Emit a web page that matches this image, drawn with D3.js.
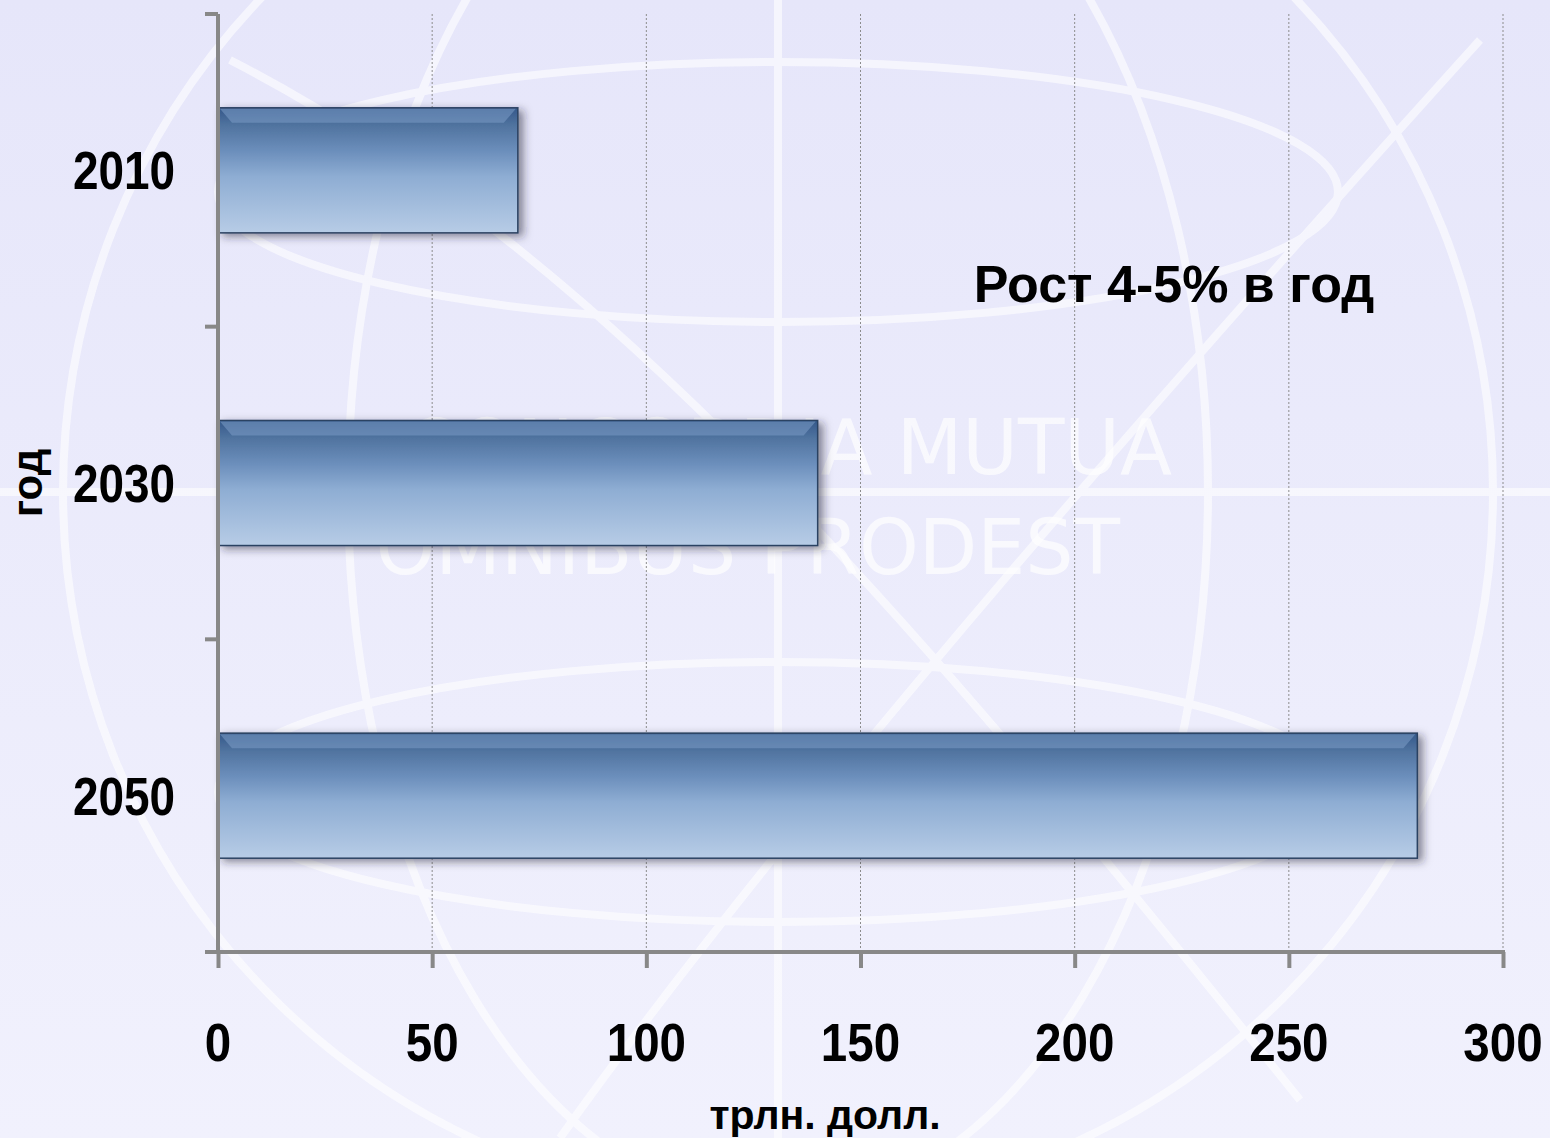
<!DOCTYPE html>
<html>
<head>
<meta charset="utf-8">
<script src="https://cdn.jsdelivr.net/npm/d3@7"></script>
<style>
  html,body{margin:0;padding:0;background:#ececfb}
  svg{display:block}
</style>
</head>
<body>
<svg id="chart" width="1550" height="1138"></svg>
<script>
const years=['2010','2030','2050']
const values=[70,140,280]
const xTicks=[0,50,100,150,200,250,300]
const note='Рост 4-5% в год'
const xTitle='трлн. долл.'
const yTitle='год'

const W=1550,H=1138
const margin={left:218,right:47,top:14,bottom:186}
const svg=d3.select('#chart')
const defs=svg.append('defs')

// background
const bg=defs.append('linearGradient').attr('id','bg').attr('x1',0).attr('y1',0).attr('x2',0).attr('y2',1)
bg.append('stop').attr('offset','0%').attr('stop-color','#e6e6fa')
bg.append('stop').attr('offset','100%').attr('stop-color','#f1f1fd')
svg.append('rect').attr('width',W).attr('height',H).attr('fill','url(#bg)')

// globe watermark
const wm=svg.append('g').attr('fill','none').attr('stroke','#ffffff').attr('stroke-width',8).attr('opacity',0.6)
const cx=778,cy=492,r=715
wm.append('circle').attr('cx',cx).attr('cy',cy).attr('r',r)
wm.append('line').attr('x1',cx).attr('x2',cx).attr('y1',0).attr('y2',H)
wm.append('line').attr('x1',0).attr('x2',W).attr('y1',cy).attr('y2',cy)
wm.append('ellipse').attr('cx',cx).attr('cy',cy).attr('rx',430).attr('ry',r)
wm.append('ellipse').attr('cx',cx).attr('cy',cy-300).attr('rx',560).attr('ry',130)
wm.append('ellipse').attr('cx',cx).attr('cy',cy+300).attr('rx',560).attr('ry',130)
wm.append('path').attr('d','M560,1138 C800,800 1200,350 1480,40')
wm.append('path').attr('d','M230,60 C600,250 900,600 1300,1100')
const wt=svg.append('g').attr('fill','#ffffff').attr('opacity',0.7)
  .attr('font-family','DejaVu Sans, sans-serif').attr('font-size',76).attr('text-anchor','end')
wt.append('text').attr('x',1172).attr('y',474).text('CONCORDIA MUTUA')
wt.append('text').attr('x',1120).attr('y',574).text('OMNIBUS PRODEST')

// scales
const x=d3.scaleLinear().domain([0,300]).range([margin.left,W-margin.right])
const y=d3.scaleBand().domain(years).range([margin.top,H-margin.bottom]).paddingInner(0.6).paddingOuter(0.3)
const yEdges=d3.scaleBand().domain(years).range([margin.top,H-margin.bottom])

// gridlines
svg.append('g').selectAll('line').data(xTicks.slice(1)).join('line')
  .attr('x1',d=>x(d)).attr('x2',d=>x(d))
  .attr('y1',margin.top).attr('y2',H-margin.bottom)
  .attr('stroke','#8c8c8c').attr('stroke-width',1).attr('stroke-dasharray','2,2')

// bar gradient + shadow
const g1=defs.append('linearGradient').attr('id','barFill').attr('x1',0).attr('y1',0).attr('x2',0).attr('y2',1)
;[['0%','#34588a'],['14%','#50739f'],['35%','#6c8fbc'],['55%','#8eadd3'],['100%','#b7cce6']]
  .forEach(s=>g1.append('stop').attr('offset',s[0]).attr('stop-color',s[1]))
const sh=defs.append('filter').attr('id','shadow').attr('x','-5%').attr('y','-10%').attr('width','115%').attr('height','130%')
sh.append('feDropShadow').attr('dx',5).attr('dy',3).attr('stdDeviation',4).attr('flood-color','#223').attr('flood-opacity',0.5)

const bars=svg.append('g')
bars.selectAll('rect.bar').data(values).join('rect').attr('class','bar')
  .attr('x',x(0)).attr('y',(d,i)=>y(years[i]))
  .attr('width',d=>x(d)-x(0)).attr('height',y.bandwidth())
  .attr('fill','url(#barFill)').attr('stroke','#2c4262').attr('stroke-width',1.5)
  .attr('filter','url(#shadow)')
// bevel highlight under the top edge
bars.selectAll('path.bevel').data(values).join('path').attr('class','bevel')
  .attr('d',(d,i)=>{
    const y0=y(years[i])+1,x0=x(0)+2,x1=x(d)-2
    return `M${x0},${y0} L${x0+12},${y0+14} L${x1-12},${y0+14} L${x1},${y0} Z`
  })
  .attr('fill','#7b9cc6').attr('opacity',0.55)

// axes
const axisColor='#888888'
const xAxis=svg.append('g').attr('transform',`translate(0,${H-margin.bottom})`)
  .call(d3.axisBottom(x).tickValues(xTicks).tickSize(16).tickFormat(''))
xAxis.selectAll('path,line').attr('stroke',axisColor).attr('stroke-width',4)
xAxis.select('.domain').attr('d',`M${x(0)-2},0H${x(300)+2}`)

const yAxis=svg.append('g').attr('transform',`translate(${margin.left},0)`)
  .call(d3.axisLeft(yEdges).tickSize(0).tickFormat(''))
yAxis.selectAll('path,line').attr('stroke',axisColor).attr('stroke-width',4)
yAxis.select('.domain').attr('d',`M0,${margin.top}V${H-margin.bottom}`)
const edges=[margin.top].concat(years.map(d=>yEdges(d)+yEdges.bandwidth()))
yAxis.selectAll('line.edge').data(edges).join('line').attr('class','edge')
  .attr('x1',-13).attr('x2',0).attr('y1',d=>d).attr('y2',d=>d)
  .attr('stroke',axisColor).attr('stroke-width',4)

// labels (condensed via horizontal scale)
const font='"Liberation Sans", Arial, sans-serif'
svg.append('g').selectAll('text').data(years).join('text')
  .attr('transform',d=>`translate(175,${y(d)+y.bandwidth()/2+19}) scale(0.85,1)`)
  .attr('text-anchor','end').attr('font-family',font).attr('font-weight','bold')
  .attr('font-size',54).attr('fill','#000').text(d=>d)
svg.append('g').selectAll('text').data(xTicks).join('text')
  .attr('transform',d=>`translate(${x(d)},1061) scale(0.88,1)`)
  .attr('text-anchor','middle').attr('font-family',font).attr('font-weight','bold')
  .attr('font-size',54).attr('fill','#000').text(d=>d)

svg.append('text').attr('x',1174).attr('y',302).attr('text-anchor','middle')
  .attr('font-family',font).attr('font-weight','bold')
  .attr('font-size',52).attr('fill','#000').text(note)
svg.append('text').attr('x',825).attr('y',1129).attr('text-anchor','middle')
  .attr('font-family',font).attr('font-weight','bold')
  .attr('font-size',41).attr('fill','#000').text(xTitle)
svg.append('text').attr('transform','translate(42,483) rotate(-90)').attr('text-anchor','middle')
  .attr('font-family',font).attr('font-weight','bold')
  .attr('font-size',42).attr('fill','#000').text(yTitle)
</script>
</body>
</html>
